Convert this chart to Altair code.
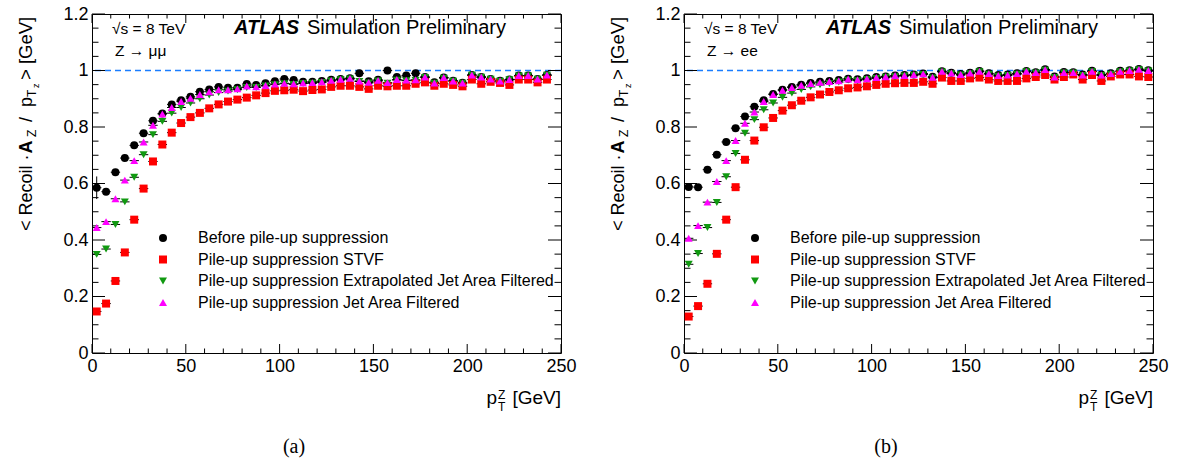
import altair as alt
import pandas as pd

# ---------------- data ----------------
SERIES = [
    "Before pile-up suppression",
    "Pile-up suppression STVF",
    "Pile-up suppression Extrapolated Jet Area Filtered",
    "Pile-up suppression Jet Area Filtered",
]
COLORS = ["#000000", "#ff0000", "#119911", "#ff00ff"]
SHAPES = ["circle", "square", "triangle-down", "triangle-up"]
MARKER_SIZES = [64, 64, 90, 90]

PT_MM = [2.5, 7.5, 12.5, 17.5, 22.5, 27.5, 32.5, 37.5, 42.5, 47.5,
         52.5, 57.5, 62.5, 67.5, 72.5, 77.5, 82.5, 87.5, 92.5, 97.5,
         102.5, 107.5, 112.5, 117.5, 122.5, 127.5, 132.5, 137.5, 142.5, 147.5,
         152.5, 157.5, 162.5, 167.5, 172.5, 177.5, 182.5, 187.5, 192.5, 197.5,
         202.5, 207.5, 212.5, 217.5, 222.5, 227.5, 232.5, 237.5, 242.5]
PT_EE = [2.5, 7.5, 12.5, 17.5, 22.5, 27.5, 32.5, 37.5, 42.5, 47.5,
         52.5, 57.5, 62.5, 67.5, 72.5, 77.5, 82.5, 87.5, 92.5, 97.5,
         102.5, 107.5, 112.5, 117.5, 122.5, 127.5, 132.5, 137.5, 142.5, 147.5,
         152.5, 157.5, 162.5, 167.5, 172.5, 177.5, 182.5, 187.5, 192.5, 197.5,
         202.5, 207.5, 212.5, 217.5, 222.5, 227.5, 232.5, 237.5, 242.5, 247.5]

# Z -> mumu
BEFORE_MM = [0.585, 0.571, 0.640, 0.690, 0.735, 0.778, 0.822, 0.848, 0.880, 0.895,
             0.907, 0.925, 0.933, 0.942, 0.939, 0.939, 0.952, 0.949, 0.955, 0.962,
             0.970, 0.966, 0.960, 0.960, 0.963, 0.967, 0.970, 0.973, 0.990, 0.962,
             0.967, 1.000, 0.977, 0.982, 0.990, 0.977, 0.958, 0.975, 0.964, 0.957,
             0.984, 0.977, 0.970, 0.964, 0.968, 0.982, 0.982, 0.970, 0.984]
STVF_MM = [0.147, 0.175, 0.255, 0.356, 0.472, 0.582, 0.678, 0.738, 0.780, 0.814,
           0.835, 0.850, 0.866, 0.880, 0.890, 0.897, 0.904, 0.912, 0.920, 0.928,
           0.930, 0.932, 0.927, 0.931, 0.933, 0.942, 0.946, 0.946, 0.942, 0.935,
           0.946, 0.944, 0.946, 0.946, 0.953, 0.958, 0.946, 0.953, 0.949, 0.944,
           0.968, 0.953, 0.960, 0.956, 0.949, 0.968, 0.968, 0.958, 0.968]
EXTRAP_MM = [0.349, 0.368, 0.455, 0.535, 0.622, 0.702, 0.773, 0.820, 0.849, 0.869,
             0.885, 0.900, 0.913, 0.922, 0.927, 0.932, 0.940, 0.940, 0.945, 0.950,
             0.953, 0.951, 0.954, 0.955, 0.958, 0.963, 0.967, 0.970, 0.961, 0.956,
             0.963, 0.955, 0.966, 0.964, 0.965, 0.975, 0.955, 0.973, 0.962, 0.955,
             0.983, 0.976, 0.969, 0.962, 0.967, 0.981, 0.981, 0.969, 0.983]
JETAREA_MM = [0.444, 0.465, 0.546, 0.612, 0.681, 0.747, 0.806, 0.846, 0.869, 0.890,
              0.902, 0.915, 0.925, 0.932, 0.932, 0.935, 0.945, 0.942, 0.947, 0.952,
              0.955, 0.953, 0.956, 0.957, 0.960, 0.965, 0.969, 0.972, 0.963, 0.958,
              0.965, 0.957, 0.968, 0.966, 0.967, 0.977, 0.956, 0.975, 0.963, 0.956,
              0.984, 0.977, 0.970, 0.963, 0.968, 0.982, 0.982, 0.970, 0.984]

# Z -> ee
BEFORE_EE = [0.588, 0.587, 0.649, 0.702, 0.747, 0.796, 0.837, 0.872, 0.895, 0.917,
             0.932, 0.942, 0.950, 0.956, 0.960, 0.963, 0.966, 0.971, 0.969, 0.973,
             0.977, 0.979, 0.982, 0.984, 0.986, 0.989, 0.978, 0.997, 0.992, 0.988,
             0.992, 0.998, 0.990, 0.984, 0.986, 0.990, 0.998, 0.994, 1.004, 0.979,
             0.995, 0.994, 0.986, 0.999, 0.986, 0.990, 0.999, 1.001, 1.005, 1.001]
STVF_EE = [0.129, 0.166, 0.245, 0.351, 0.472, 0.587, 0.684, 0.752, 0.799, 0.832,
           0.858, 0.877, 0.893, 0.905, 0.915, 0.924, 0.930, 0.937, 0.940, 0.944,
           0.949, 0.953, 0.955, 0.956, 0.956, 0.960, 0.953, 0.975, 0.963, 0.963,
           0.972, 0.975, 0.968, 0.963, 0.963, 0.963, 0.972, 0.977, 0.984, 0.968,
           0.977, 0.986, 0.968, 0.984, 0.963, 0.979, 0.986, 0.986, 0.979, 0.977]
EXTRAP_EE = [0.314, 0.352, 0.444, 0.533, 0.624, 0.706, 0.778, 0.826, 0.861, 0.885,
             0.905, 0.920, 0.933, 0.942, 0.949, 0.954, 0.959, 0.966, 0.964, 0.968,
             0.972, 0.976, 0.978, 0.981, 0.983, 0.986, 0.974, 0.995, 0.989, 0.984,
             0.989, 0.996, 0.987, 0.980, 0.982, 0.987, 0.996, 0.991, 1.001, 0.975,
             0.991, 0.991, 0.982, 0.996, 0.982, 0.987, 0.996, 0.998, 1.003, 0.998]
JETAREA_EE = [0.406, 0.451, 0.534, 0.607, 0.681, 0.752, 0.813, 0.853, 0.890, 0.915,
              0.930, 0.940, 0.948, 0.954, 0.958, 0.961, 0.964, 0.970, 0.967, 0.971,
              0.975, 0.978, 0.982, 0.982, 0.985, 0.988, 0.976, 0.997, 0.991, 0.986,
              0.991, 0.997, 0.989, 0.982, 0.984, 0.989, 0.997, 0.993, 1.003, 0.977,
              0.993, 0.993, 0.984, 0.997, 0.984, 0.989, 0.997, 1.000, 1.004, 1.000]

# vertical error bar of the first "before" point (Z -> mumu)
VERR_PT = [2.5]
VERR_LO = [0.545]
VERR_HI = [0.625]

BIN_HALF = 2.5
X_LABELS = [0, 50, 100, 150, 200, 250]
X_MINOR = [10, 20, 30, 40, 60, 70, 80, 90, 110, 120, 130, 140, 160, 170, 180, 190,
           210, 220, 230, 240]
Y_LABELS = [0, 0.2, 0.4, 0.6, 0.8, 1.0, 1.2]
Y_MINOR = [0.05, 0.1, 0.15, 0.25, 0.3, 0.35, 0.45, 0.5, 0.55, 0.65, 0.7, 0.75,
           0.85, 0.9, 0.95, 1.05, 1.1, 1.15]
REF_LEVEL = [1.0]

# ---------------- chart ----------------
W, H = 469, 339
FONT = "Liberation Sans"

xs = alt.Scale(domain=[0, 250], nice=False, zero=False)
ys = alt.Scale(domain=[0, 1.2], nice=False, zero=False)
ax_x = alt.Axis(values=X_LABELS, format="d", title=None, ticks=False, tickSize=0,
                domain=False, grid=False, labelFont=FONT, labelFontSize=18,
                labelColor="black", labelPadding=4, labelFlush=False,
                labelOverlap=False)
ax_y = alt.Axis(values=Y_LABELS, format="~g", title=None, ticks=False, tickSize=0,
                domain=False, grid=False, labelFont=FONT, labelFontSize=18,
                labelColor="black", labelPadding=4, labelFlush=False,
                labelOverlap=False)

ONE = pd.DataFrame({"a": [0]})


def txt(s, x, y, size, align="left", angle=0, weight="normal", style="normal",
        font=FONT):
    kw = dict(text=s, align=align, baseline="alphabetic", font=font,
              fontSize=size, color="black", fontWeight=weight, fontStyle=style)
    if angle:
        kw["angle"] = angle
    return alt.Chart(ONE).mark_text(**kw).encode(x=alt.value(x), y=alt.value(y))


def panel(pt, series_vals, channel, letter, verr=None):
    rows = []
    for name, vals in zip(SERIES, series_vals):
        for p, v in zip(pt, vals):
            rows.append({"pt": p, "val": v, "series": name,
                         "lo": p - BIN_HALF, "hi": p + BIN_HALF})
    df = pd.DataFrame(rows)
    base = alt.Chart(df)

    ref = alt.Chart(pd.DataFrame({"ref": REF_LEVEL})).mark_rule(
        color="#1a7dff", strokeDash=[6, 4], strokeWidth=1.6
    ).encode(y=alt.Y("ref:Q", scale=ys, axis=ax_y))

    xmaj = pd.DataFrame({"v": X_LABELS})
    xmin = pd.DataFrame({"v": X_MINOR})
    ymaj = pd.DataFrame({"v": Y_LABELS})
    ymin = pd.DataFrame({"v": Y_MINOR})

    def xticks(d, ln):
        enc = alt.X("v:Q", scale=xs, axis=ax_x)
        b = alt.Chart(d).mark_rule(color="black", strokeWidth=1).encode(
            x=enc, y=alt.value(H), y2=alt.value(H - ln))
        t = alt.Chart(d).mark_rule(color="black", strokeWidth=1).encode(
            x=enc, y=alt.value(0), y2=alt.value(ln))
        return [b, t]

    def yticks(d, ln):
        enc = alt.Y("v:Q", scale=ys, axis=ax_y)
        l = alt.Chart(d).mark_rule(color="black", strokeWidth=1).encode(
            y=enc, x=alt.value(0), x2=alt.value(ln))
        r = alt.Chart(d).mark_rule(color="black", strokeWidth=1).encode(
            y=enc, x=alt.value(W), x2=alt.value(W - ln))
        return [l, r]

    ticks = xticks(xmaj, 9) + xticks(xmin, 4.5) + yticks(ymaj, 13) + yticks(ymin, 6.5)

    err = base.mark_rule(color="black", strokeWidth=1).encode(
        x=alt.X("lo:Q", scale=xs, axis=ax_x), x2="hi:Q",
        y=alt.Y("val:Q", scale=ys, axis=ax_y))
    layers = [ref] + ticks + [err]
    if verr is not None:
        vdf = pd.DataFrame({"pt": verr[0], "lo": verr[1], "hi": verr[2]})
        layers.append(alt.Chart(vdf).mark_rule(color="black", strokeWidth=1).encode(
            x=alt.X("pt:Q", scale=xs, axis=ax_x),
            y=alt.Y("lo:Q", scale=ys, axis=ax_y), y2="hi:Q"))

    leg = alt.Legend(orient="none", legendX=63, legendY=216, title=None,
                     labelFont=FONT, labelFontSize=16, labelColor="black",
                     symbolSize=36, symbolStrokeWidth=0, labelOffset=27,
                     rowPadding=5.5, padding=0, direction="vertical",
                     labelLimit=0)
    pts = base.mark_point(filled=True, opacity=1, strokeWidth=0).encode(
        x=alt.X("pt:Q", scale=xs, axis=ax_x),
        y=alt.Y("val:Q", scale=ys, axis=ax_y),
        color=alt.Color("series:N", scale=alt.Scale(domain=SERIES, range=COLORS),
                        legend=leg),
        shape=alt.Shape("series:N", scale=alt.Scale(domain=SERIES, range=SHAPES),
                        legend=leg),
        size=alt.Size("series:N", scale=alt.Scale(domain=SERIES, range=MARKER_SIZES),
                      legend=None),
    )
    layers.append(pts)

    texts = [
        txt("ATLAS", 142, 20, 20, weight="bold", style="italic"),
        txt("Simulation Preliminary", 215, 20, 20),
        txt("\u221As = 8 TeV", 20, 20, 15.5),
        txt(channel, 23, 42, 15.5),
        # y-axis title pieces (rotated)
        txt("< Recoil \u00b7", -60, 217, 18, angle=270),
        txt("A", -60, 139.5, 18, angle=270, weight="bold"),
        txt("Z", -56, 123, 12, angle=270),
        txt("/", -60, 108, 18, angle=270),
        txt("p", -60, 93, 18, angle=270),
        txt("T", -56, 83, 12, angle=270),
        txt("z", -53, 74, 9, angle=270),
        txt("> [GeV]", -60, 66, 18.5, angle=270),
        # x-axis title pieces
        txt("[GeV]", W, 390, 19, align="right"),
        txt("p", 405, 390, 19, align="right"),
        txt("Z", 406, 385, 12),
        txt("T", 406, 397, 12),
        txt(letter, 202, 439, 20, align="center", font="Liberation Serif"),
    ]
    layers += texts
    return alt.layer(*layers).properties(width=W, height=H)


left = panel(PT_MM, [BEFORE_MM, STVF_MM, EXTRAP_MM, JETAREA_MM],
             "Z \u2192 \u03bc\u03bc", "(a)", (VERR_PT, VERR_LO, VERR_HI))
right = panel(PT_EE, [BEFORE_EE, STVF_EE, EXTRAP_EE, JETAREA_EE],
              "Z \u2192 ee", "(b)")

chart = alt.hconcat(left, right, spacing=123, bounds="flush").resolve_scale(
    color="independent", shape="independent", size="independent"
).properties(
    padding={"left": 16, "right": 0, "top": 4, "bottom": 0},
    background="white",
).configure_view(stroke="black", strokeWidth=1)

chart.save("out.html", embed_options={"renderer": "svg", "actions": False})
